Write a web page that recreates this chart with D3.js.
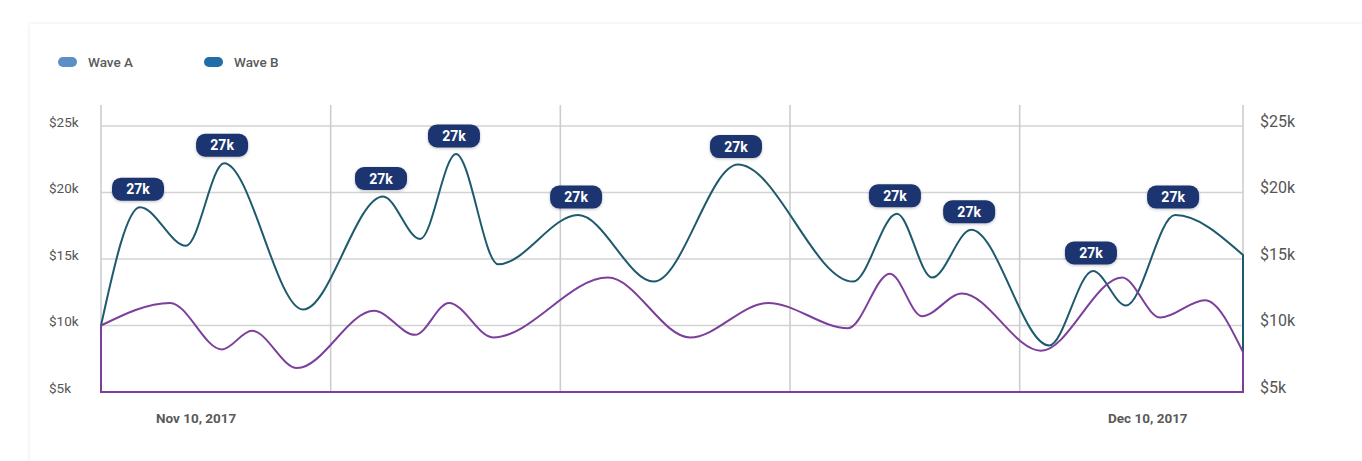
<!DOCTYPE html>
<html>
<head>
<meta charset="utf-8">
<script src="https://cdn.jsdelivr.net/npm/d3@7"></script>
<style>
  html, body { margin: 0; padding: 0; background: #ffffff; }
  body { width: 1362px; height: 461px; overflow: hidden; position: relative; font-family: Roboto, "Open Sans", sans-serif; }
  .card { position: absolute; left: 30px; top: 24px; width: 1340px; height: 460px; background: #fff;
          box-shadow: 0 0 4px rgba(0,0,0,0.10); }
  svg { position: absolute; left: 0; top: 0; }
</style>
</head>
<body>
<div class="card"></div>
<svg id="chart" width="1362" height="461"></svg>
<script>
// ---- data ----
const seriesNames = ["Wave A", "Wave B"];
const legendColors = ["#5b8fc6", "#1f6ea8"];
const startDate = new Date(2017, 10, 7);
const endDate = new Date(2017, 11, 13);
const dateTicks = [new Date(2017, 10, 10), new Date(2017, 11, 10)];
const yTicks = [5, 10, 15, 20, 25];
// Wave B (teal) : day offsets from start and values in $k
const waveBDays = [0, 1.23, 2.68, 3.88, 6.37, 8.89, 10.06, 11.19, 12.52, 15.04, 17.43, 20.08, 23.71, 25.09, 26.2, 27.43, 29.89, 31.27, 32.31, 33.86, 36];
const waveBValues = [10, 18.9, 16.0, 22.2, 11.2, 19.7, 16.5, 22.9, 14.6, 18.3, 13.3, 22.1, 13.3, 18.4, 13.6, 17.2, 8.5, 14.1, 11.5, 18.3, 15.3];
// Wave A (purple)
const waveADays = [0, 2.18, 3.81, 4.76, 6.18, 8.61, 9.9, 10.97, 12.36, 15.98, 18.57, 21.03, 23.55, 24.87, 25.88, 27.14, 29.63, 32.19, 33.39, 34.8, 36];
const waveAValues = [10, 11.7, 8.2, 9.6, 6.8, 11.1, 9.3, 11.7, 9.1, 13.6, 9.1, 11.7, 9.8, 13.9, 10.7, 12.4, 8.1, 13.6, 10.6, 11.9, 8.0];
const peakLabel = "27k";

(function () {
// ---- layout ----
const svg = d3.select("#chart");
const pLeft = 101, pRight = 1243, pTop = 126, pBottom = 392;
const toDate = d => new Date(startDate.getTime() + d * 864e5);

const x = d3.scaleTime().domain([startDate, endDate]).range([pLeft, pRight]);
const y = d3.scaleLinear().domain([5, 25]).range([pBottom, pTop]);

// legend
const legend = svg.append("g");
const legendX = [58, 204];
seriesNames.forEach((n, i) => {
  legend.append("rect").attr("x", legendX[i]).attr("y", 57).attr("width", 19).attr("height", 10)
    .attr("rx", 5).attr("fill", legendColors[i]);
  legend.append("text").attr("x", legendX[i] + 30).attr("y", 62).attr("dy", "0.35em")
    .attr("font-size", 13.5).attr("font-weight", 500).attr("fill", "#5a5a5a").text(n);
});

// gridlines
const grid = svg.append("g");
grid.selectAll("line.h").data(yTicks.slice(1)).join("line")
  .attr("x1", pLeft).attr("x2", pRight).attr("y1", d => y(d)).attr("y2", d => y(d))
  .attr("stroke", "#d3d3d3").attr("stroke-width", 1.6);
const vDays = d3.range(0, 5).map(i => i * 7.24).concat([36]);
grid.selectAll("line.v").data(vDays).join("line")
  .attr("x1", d => x(toDate(d))).attr("x2", d => x(toDate(d)))
  .attr("y1", 105).attr("y2", pBottom)
  .attr("stroke", "#cdcdcd").attr("stroke-width", 1.6);

// y axes labels
svg.append("g").selectAll("text").data(yTicks).join("text")
  .attr("x", 49).attr("y", d => y(d) - 4).attr("dy", "0.35em")
  .attr("font-size", 13.5).attr("fill", "#555").text(d => "$" + d + "k");
svg.append("g").selectAll("text").data(yTicks).join("text")
  .attr("x", 1260).attr("y", d => y(d) - 5).attr("dy", "0.35em")
  .attr("font-size", 16).attr("fill", "#555").text(d => "$" + d + "k");

// x labels
const fmt = d3.timeFormat("%b %d, %Y");
svg.append("g").selectAll("text").data(dateTicks).join("text")
  .attr("x", d => x(d)).attr("y", 418).attr("dy", "0.35em").attr("text-anchor", "middle")
  .attr("font-size", 13.5).attr("font-weight", 700).attr("fill", "#5a5a5a").text(d => fmt(d));

// series
const waveB = waveBDays.map((d, i) => ({ date: toDate(d), v: waveBValues[i] }));
const waveA = waveADays.map((d, i) => ({ date: toDate(d), v: waveAValues[i] }));
const area = d3.area().curve(d3.curveMonotoneX)
  .x(d => x(d.date)).y0(y(5)).y1(d => y(d.v));

svg.append("path").datum(waveB).attr("d", area).attr("fill", "none")
  .attr("stroke", "#1e5a6d").attr("stroke-width", 2);
svg.append("path").datum(waveA).attr("d", area).attr("fill", "none")
  .attr("stroke", "#7d3f9c").attr("stroke-width", 2);

// badges at peaks of Wave B
const defs = svg.append("defs");
const f = defs.append("filter").attr("id", "sh").attr("x", "-30%").attr("y", "-40%").attr("width", "160%").attr("height", "180%");
f.append("feDropShadow").attr("dx", 0).attr("dy", 1).attr("stdDeviation", 1.5).attr("flood-color", "#000").attr("flood-opacity", 0.25);

const peaks = waveB.filter((d, i) => i > 0 && i < waveB.length - 1 && d.v > waveB[i - 1].v && d.v > waveB[i + 1].v);
const badges = svg.append("g").selectAll("g").data(peaks).join("g")
  .attr("transform", d => `translate(${x(d.date) - 2},${y(d.v) - 18})`);
badges.append("rect").attr("x", -26).attr("y", -11.5).attr("width", 52).attr("height", 23).attr("rx", 9)
  .attr("fill", "#1c3471").attr("filter", "url(#sh)");
badges.append("text").attr("text-anchor", "middle").attr("dy", "0.36em")
  .attr("font-size", 14).attr("font-weight", 700).attr("fill", "#fff").text(peakLabel);
})();
</script>
</body>
</html>
